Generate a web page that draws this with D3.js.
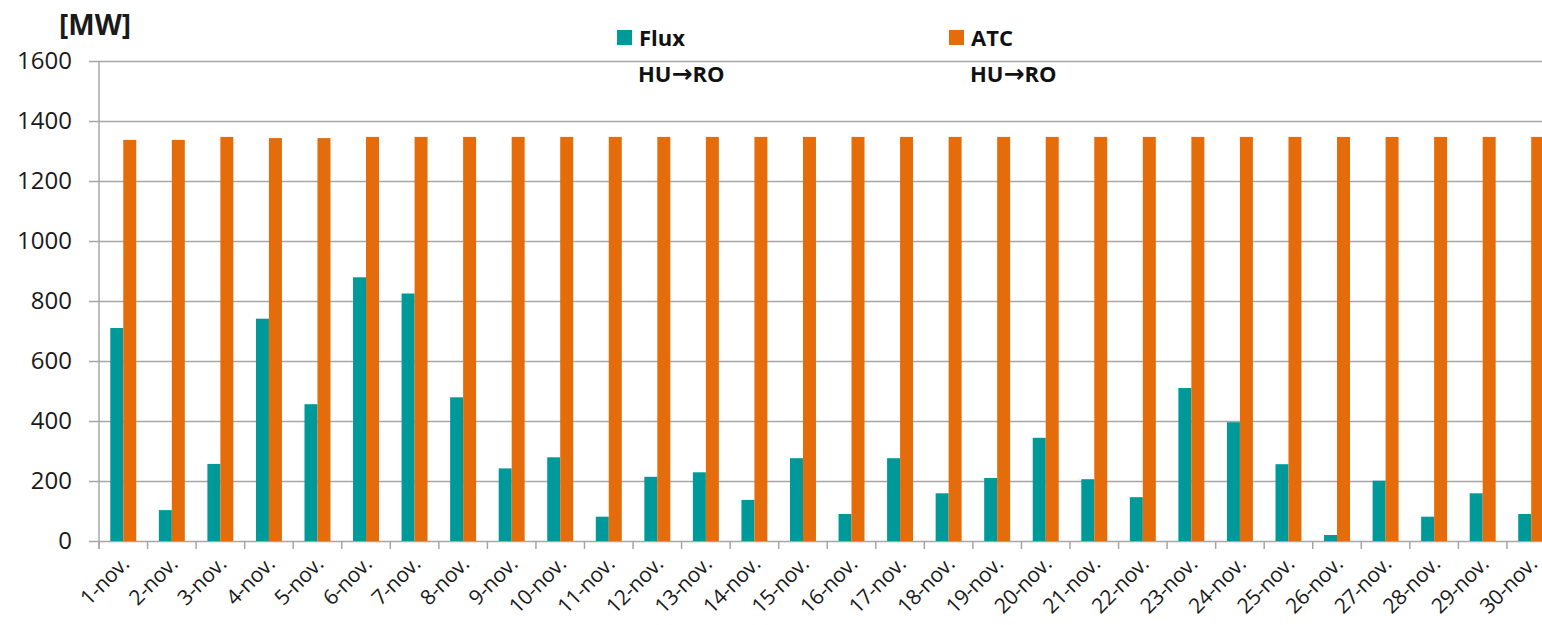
<!DOCTYPE html>
<html>
<head>
<meta charset="utf-8">
<script src="https://cdn.jsdelivr.net/npm/d3@7"></script>
<style>
  body { margin: 0; background: #fff; }
  svg { display: block; font-family: "Open Sans", sans-serif; }
</style>
</head>
<body>
<div id="chart"></div>
<script>
// data
var days = ["1-nov.","2-nov.","3-nov.","4-nov.","5-nov.","6-nov.","7-nov.","8-nov.","9-nov.","10-nov.",
            "11-nov.","12-nov.","13-nov.","14-nov.","15-nov.","16-nov.","17-nov.","18-nov.","19-nov.","20-nov.",
            "21-nov.","22-nov.","23-nov.","24-nov.","25-nov.","26-nov.","27-nov.","28-nov.","29-nov.","30-nov."];
var flux = [710,103,257,741,456,879,825,479,242,279,
            81,214,229,137,276,90,276,159,210,344,
            206,146,510,396,256,20,201,81,159,90];
var atc  = [1337,1337,1347,1343,1343,1347,1347,1347,1347,1347,
            1347,1347,1347,1347,1347,1347,1347,1347,1347,1347,
            1347,1347,1347,1347,1347,1347,1347,1347,1347,1347];
var yTicks = [0,200,400,600,800,1000,1200,1400,1600];
var seriesKeys = ["flux","atc"];
var seriesNames = ["Flux", "ATC"];

var width = 1542, height = 625;
var plotLeft = 99, plotTop = 61, plotBottom = 541;
var step = 48.55;

var colors = { flux: "#009999", atc: "#E46C0A" };
var gridColor = "#a6a6a6";

var svg = d3.select("#chart").append("svg")
    .attr("width", width)
    .attr("height", height);

var x = d3.scaleBand()
    .domain(days)
    .range([plotLeft, plotLeft + step * days.length])
    .paddingInner(0).paddingOuter(0);

var x1 = d3.scaleBand()
    .domain(seriesKeys)
    .range([0, x.bandwidth()])
    .paddingInner(0).paddingOuter(0.87);

var y = d3.scaleLinear()
    .domain([0, 1600])
    .range([plotBottom, plotTop]);

// gridlines + y labels
var yAxis = d3.axisLeft(y)
    .tickValues(yTicks)
    .tickFormat(d3.format("d"))
    .tickSize(-(width - plotLeft))
    .tickSizeOuter(0)
    .tickPadding(27);

var gy = svg.append("g")
    .attr("transform", "translate(" + plotLeft + ",0)")
    .call(yAxis);
gy.select(".domain").remove();
gy.selectAll(".tick line")
    .attr("x1", -10)
    .attr("stroke", gridColor)
    .attr("stroke-width", 1.5);
gy.selectAll(".tick text")
    .attr("fill", "#1a1a1a")
    .style("font-size", "24px")
    .style("font-family", "'Open Sans', sans-serif");

// left axis line
svg.append("line")
    .attr("x1", plotLeft).attr("x2", plotLeft)
    .attr("y1", plotTop).attr("y2", plotBottom + 8)
    .attr("stroke", gridColor).attr("stroke-width", 1.5);

// bars
var rows = days.map(function(d, i) { return { day: d, flux: flux[i], atc: atc[i] }; });

var groups = svg.append("g").selectAll("g")
    .data(rows)
    .enter().append("g")
    .attr("transform", function(d) { return "translate(" + x(d.day) + ",0)"; });

groups.selectAll("rect")
    .data(function(d) { return seriesKeys.map(function(k) { return { key: k, value: d[k] }; }); })
    .enter().append("rect")
    .attr("x", function(d) { return x1(d.key); })
    .attr("y", function(d) { return y(d.value); })
    .attr("width", x1.bandwidth())
    .attr("height", function(d) { return plotBottom - y(d.value); })
    .attr("fill", function(d) { return colors[d.key]; });

// x axis: category boundary ticks and rotated labels
var boundaries = days.map(function(d) { return x(d); });
svg.append("g").selectAll("line")
    .data(boundaries)
    .enter().append("line")
    .attr("x1", function(d) { return d; })
    .attr("x2", function(d) { return d; })
    .attr("y1", plotBottom)
    .attr("y2", plotBottom + 8)
    .attr("stroke", gridColor).attr("stroke-width", 1.5);

svg.append("g").selectAll("text")
    .data(days)
    .enter().append("text")
    .attr("transform", function(d) {
      var cx = x(d) + x.bandwidth() / 2 + 2;
      return "translate(" + cx + "," + (plotBottom + 19) + ") rotate(-45)";
    })
    .attr("text-anchor", "end")
    .attr("dy", "0.35em")
    .attr("fill", "#1a1a1a")
    .style("font-size", "21px")
    .style("letter-spacing", "-0.3px")
    .text(function(d) { return d; });

// unit label
svg.append("text")
    .attr("x", 59).attr("y", 35)
    .attr("fill", "#1a1a1a")
    .style("font-size", "28px")
    .style("font-weight", "bold")
    .text("[MW]");

// legend
var legendX = [617, 949];
var legend = svg.append("g").selectAll("g")
    .data(seriesKeys)
    .enter().append("g")
    .attr("transform", function(d, i) { return "translate(" + legendX[i] + ",30)"; });

legend.append("rect")
    .attr("width", 15).attr("height", 15)
    .attr("fill", function(d) { return colors[d]; });

legend.append("text")
    .attr("x", 22).attr("y", 16)
    .attr("fill", "#111")
    .style("font-size", "22px")
    .style("font-weight", "bold")
    .text(function(d, i) { return seriesNames[i]; });

var sub = legend.append("text")
    .attr("x", 21).attr("y", 52)
    .attr("fill", "#111")
    .style("font-size", "22px")
    .style("font-weight", "bold");
sub.append("tspan").text("HU");
sub.append("tspan")
    .style("font-family", "'DejaVu Sans', sans-serif")
    .style("font-size", "25px")
    .text("\u2192");
sub.append("tspan").text("RO");
</script>
</body>
</html>
